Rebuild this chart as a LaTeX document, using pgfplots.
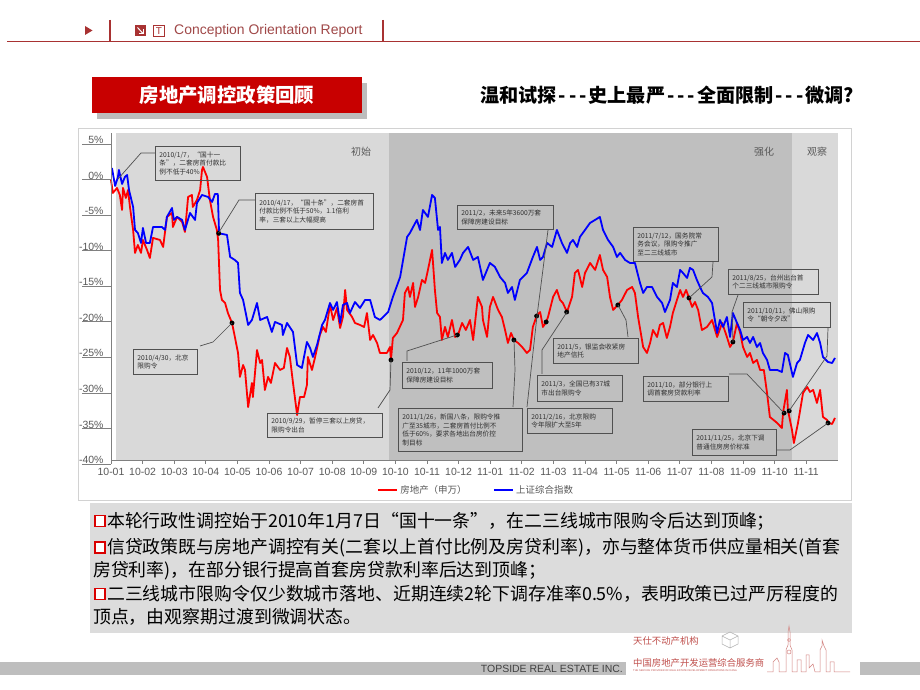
\documentclass[border=0pt]{standalone}
\usepackage{pgfplots}
\pgfplotsset{compat=1.18}
\usepackage{fontspec}
\setmainfont{Liberation Sans}
\newfontfamily\cjk{Noto Sans CJK SC}
\definecolor{hdred}{HTML}{A83232}
\definecolor{hdtext}{HTML}{A04848}
\definecolor{titlered}{HTML}{C80000}
\definecolor{shadowgray}{HTML}{BDBDBD}
\definecolor{bgA}{HTML}{D9D9D9}
\definecolor{bgB}{HTML}{BFBFBF}
\definecolor{boxgray}{HTML}{505050}
\definecolor{anngray}{HTML}{303030}
\definecolor{labgray}{HTML}{595959}
\definecolor{axgray}{HTML}{808080}
\definecolor{txtbg}{HTML}{DCDCDC}
\definecolor{footgray}{HTML}{BEBEBE}
\definecolor{logored}{HTML}{C0504D}
\newcommand\dashes{\kern2pt-\kern3pt-\kern3pt-\kern2pt}
\tikzset{ann/.style={draw=boxgray, line width=0.8bp, inner xsep=4bp, inner ysep=0pt, anchor=north west,
  font=\cjk\fontsize{6.7}{8.7}\selectfont, text=anngray, align=left},
  lead/.style={draw=boxgray, line width=0.7bp},
  px/.style={x=1bp, y=1bp, shift={(0,690)}, yscale=-1}}
\newcommand\ann[6]{\node[ann, text width=#5bp, minimum height=#4bp] at (#1,#2) {#6};}
\begin{document}
\begin{tikzpicture}
\begin{scope}[px]
\useasboundingbox (0,0) rectangle (920,690);
\fill[white] (0,0) rectangle (920,690);
% header
\draw[hdred, line width=1.8] (7,41.5) -- (920,41.5);
\draw[hdred, line width=1.2] (110,20) -- (110,41.5);
\draw[hdred, line width=1.2] (383,20) -- (383,41.5);
\fill[hdred] (85,26) -- (92.5,30.5) -- (85,35) -- cycle;
\fill[hdred] (135,25) rectangle (145.5,36);
\draw[white, line width=1] (137.5,27.5) -- (143,33.5);
\draw[white, line width=1] (143,29.5) -- (143,33.5) -- (139,33.5);
\draw[hdred, line width=0.8] (153.5,25) rectangle (164.5,36);
\node[text=hdred, inner sep=0, font=\fontsize{10}{10}\selectfont] at (159,30.7) {T};
\node[anchor=west, inner sep=0, text=hdtext, font=\fontsize{14}{16}\selectfont] at (174,30.5) {Conception Orientation Report};
% title
\fill[shadowgray] (97,83) rectangle (367,119);
\fill[titlered] (92,77) rectangle (362,113);
\node[white, inner sep=0, font=\cjk\bfseries\fontsize{19.5}{22}\selectfont] at (227,95.5) {房地产调控政策回顾};
\node[anchor=west, inner sep=0, font=\cjk\bfseries\fontsize{19.2}{22}\selectfont] at (480,95) {温和试探\dashes 史上最严\dashes 全面限制\dashes 微调?};
% panel
\draw[gray!35, fill=white, line width=0.6] (78,128) rectangle (851,500);
\end{scope}

\begin{axis}[
  at={(111bp,230bp)}, anchor=south west,
  scale only axis, width=726.8bp, height=327.1bp,
  xmin=0, xmax=23, ymin=-40, ymax=6,
  axis lines*=left, axis on top,
  axis line style={axgray, line width=0.8bp},
  clip=false,
  xtick={0,...,22},
  xticklabels={10-01,10-02,10-03,10-04,10-05,10-06,10-07,10-08,10-09,10-10,10-11,10-12,11-01,11-02,11-03,11-04,11-05,11-06,11-07,11-08,11-09,11-10,11-11},
  ytick={-40,-35,...,5},
  yticklabel={\pgfmathprintnumber{\tick}\%},
  /pgf/number format/assume math mode=true,
  tick align=outside,
  major tick length=4bp,
  x tick style={axgray, line width=0.7bp},
  y tick style={draw=none},
  ticklabel style={font=\fontsize{10.5}{12}\selectfont, text=labgray},
  xticklabel style={yshift=-1bp},
  legend style={at={(0.502,-0.092)}, anchor=center, draw=none, fill=none, legend columns=2,
    font=\cjk\fontsize{9.5}{11}\selectfont, text=labgray, inner sep=0pt,
    /tikz/every even column/.append style={column sep=24bp}},
  legend image code/.code={\draw[#1, line width=2.6bp] (0bp,0bp) -- (19bp,0bp);},
]
\fill[bgA] (axis cs:0.15,-40) rectangle (axis cs:8.8,6);
\fill[bgB] (axis cs:8.8,-40) rectangle (axis cs:21.55,6);
\fill[bgA] (axis cs:21.55,-40) rectangle (axis cs:23,6);
\pgfplotsinvokeforeach{5,0,-5,-10,-15,-20,-25,-30,-35,-40}{
  \draw[axgray, line width=0.7bp] ([xshift=-29bp,yshift=-4bp]axis cs:0,#1) -- ([yshift=-4bp]axis cs:0,#1);
}
\addplot[red, line width=1.8bp, line join=round] table {
x y
0.00 -0.62
0.06 -2.45
0.19 -1.74
0.28 -2.73
0.35 -4.84
0.38 -1.74
0.47 -3.15
0.54 -2.03
0.60 -4.42
0.70 -7.65
0.76 -10.88
0.85 -9.76
0.95 -10.88
1.01 -9.06
1.14 -10.46
1.23 -11.59
1.33 -8.77
1.55 -9.06
1.65 -10.04
1.77 -5.82
1.93 -5.26
1.96 -7.23
2.09 -5.82
2.25 -6.52
2.34 -7.93
2.44 -3.01
2.56 -2.73
2.59 -4.42
2.72 -3.43
2.82 -2.03
2.88 0.79
2.91 1.21
3.04 -0.20
3.13 -3.43
3.23 -5.82
3.35 -7.65
3.39 -9.06
3.45 -16.09
3.51 -17.49
3.61 -17.92
3.70 -19.33
3.83 -20.73
3.92 -22.70
4.02 -24.95
4.08 -28.32
4.18 -26.64
4.24 -27.34
4.34 -32.55
4.46 -29.17
4.49 -31.14
4.62 -24.53
4.72 -26.36
4.78 -25.93
4.87 -30.15
4.97 -28.32
5.06 -29.17
5.19 -26.36
5.35 -27.34
5.47 -27.06
5.57 -24.25
5.66 -25.51
5.76 -29.17
5.89 -33.67
5.98 -31.14
6.11 -31.14
6.20 -29.45
6.23 -25.51
6.36 -27.34
6.46 -25.51
6.61 -22.42
6.71 -21.29
6.80 -21.99
6.93 -18.20
7.03 -20.31
7.15 -18.62
7.25 -21.43
7.34 -19.89
7.41 -16.09
7.47 -18.90
7.63 -19.89
7.72 -20.73
7.88 -21.01
8.01 -21.29
8.10 -19.33
8.20 -23.12
8.29 -22.42
8.42 -23.54
8.51 -24.95
8.73 -24.95
8.83 -24.11
8.86 -25.93
8.92 -22.84
9.05 -22.14
9.24 -20.31
9.30 -16.51
9.40 -15.67
9.46 -17.07
9.56 -15.10
9.62 -18.48
9.72 -17.07
9.84 -14.68
9.94 -15.10
10.03 -13.27
10.16 -10.46
10.19 -12.29
10.25 -16.09
10.32 -19.33
10.41 -19.89
10.47 -23.12
10.57 -21.29
10.66 -22.70
10.79 -20.31
10.89 -22.70
10.98 -22.42
11.11 -20.73
11.23 -21.72
11.36 -20.31
11.46 -23.12
11.61 -17.07
11.74 -18.48
11.77 -20.31
11.90 -22.70
11.99 -18.48
12.09 -17.07
12.25 -18.90
12.37 -19.89
12.47 -21.72
12.56 -23.54
12.66 -22.14
12.75 -23.12
12.88 -23.54
13.01 -24.11
13.16 -24.95
13.26 -24.53
13.35 -21.29
13.48 -19.61
13.58 -19.19
13.67 -21.29
13.77 -20.59
13.83 -19.89
13.99 -17.07
14.11 -16.09
14.21 -17.49
14.30 -17.92
14.43 -19.19
14.59 -17.07
14.68 -13.70
14.78 -13.27
14.91 -15.67
15.00 -13.70
15.16 -12.29
15.32 -13.27
15.47 -11.17
15.57 -13.27
15.70 -14.26
15.79 -17.07
15.89 -18.90
16.04 -18.20
16.17 -17.49
16.33 -16.09
16.49 -15.67
16.58 -16.51
16.68 -19.89
16.84 -24.11
16.96 -24.95
17.06 -23.54
17.15 -21.72
17.28 -22.70
17.37 -21.01
17.47 -20.73
17.59 -22.84
17.69 -21.29
17.78 -19.33
17.91 -17.49
18.01 -16.09
18.10 -17.07
18.20 -16.09
18.29 -17.21
18.39 -18.48
18.48 -17.78
18.58 -18.90
18.70 -21.72
18.86 -21.29
19.02 -20.31
19.18 -22.70
19.34 -20.73
19.49 -22.70
19.59 -24.11
19.68 -23.40
19.81 -20.73
19.91 -22.14
20.00 -24.11
20.13 -25.51
20.22 -24.95
20.32 -26.36
20.44 -25.93
20.54 -27.34
20.66 -27.34
20.76 -30.57
20.85 -33.95
21.08 -34.79
21.23 -35.50
21.27 -33.25
21.39 -30.15
21.42 -32.97
21.55 -35.78
21.61 -37.61
21.74 -34.79
21.90 -30.57
22.03 -29.73
22.12 -30.43
22.22 -30.15
22.34 -31.98
22.44 -30.15
22.53 -33.95
22.66 -34.37
22.69 -34.79
22.82 -34.93
22.91 -34.09
};
\addlegendentry{房地产（申万）}
\addplot[blue, line width=1.8bp, line join=round] table {
x y
0.03 1.07
0.13 -1.46
0.22 -0.20
0.25 0.79
0.35 -1.18
0.44 -0.20
0.51 0.08
0.57 -2.03
0.70 -4.42
0.76 -7.65
0.85 -8.07
0.95 -9.48
1.01 -7.37
1.11 -9.48
1.23 -9.48
1.33 -7.23
1.61 -7.23
1.71 -7.65
1.77 -5.82
1.93 -4.56
1.99 -6.24
2.09 -5.82
2.25 -6.24
2.34 -7.65
2.50 -5.26
2.66 -6.24
2.72 -3.85
2.88 -2.73
3.07 -3.01
3.20 -3.71
3.29 -2.59
3.38 -2.59
3.42 -8.12
3.67 -8.35
3.77 -11.45
3.92 -11.87
4.02 -12.29
4.08 -16.51
4.18 -17.49
4.34 -21.01
4.46 -20.31
4.62 -17.92
4.72 -20.31
4.94 -19.89
5.09 -21.99
5.19 -20.59
5.41 -21.01
5.44 -22.42
5.57 -20.73
5.76 -21.99
5.89 -26.64
6.04 -27.06
6.20 -23.40
6.30 -24.25
6.39 -25.51
6.52 -23.82
6.68 -21.01
6.77 -20.31
6.93 -17.92
7.03 -18.90
7.15 -17.78
7.25 -20.73
7.34 -18.20
7.47 -17.92
7.56 -19.33
7.72 -17.78
7.88 -18.62
8.04 -17.49
8.20 -17.49
8.35 -19.89
8.51 -20.31
8.58 -20.03
8.77 -19.19
8.92 -17.07
9.15 -14.26
9.37 -8.63
9.46 -8.07
9.56 -7.23
9.68 -6.24
9.78 -7.65
9.87 -4.84
10.03 -5.82
10.16 -2.73
10.25 -3.15
10.35 -7.65
10.41 -7.23
10.47 -12.29
10.57 -10.88
10.66 -11.87
10.79 -10.88
10.89 -12.85
11.04 -11.87
11.14 -10.88
11.30 -10.04
11.46 -11.87
11.61 -11.45
11.77 -14.68
11.99 -12.29
12.15 -12.85
12.31 -14.26
12.47 -15.10
12.56 -16.51
12.69 -15.67
12.78 -17.49
12.94 -14.68
13.16 -13.70
13.35 -11.45
13.48 -10.04
13.58 -11.87
13.67 -11.45
13.80 -9.48
13.96 -10.04
14.11 -7.65
14.27 -9.48
14.43 -10.88
14.53 -9.48
14.62 -9.06
14.75 -10.04
14.84 -8.63
15.00 -7.65
15.16 -6.66
15.32 -6.24
15.47 -5.82
15.57 -7.65
15.73 -9.06
15.89 -10.04
16.01 -11.45
16.11 -10.88
16.27 -11.87
16.42 -12.29
16.58 -12.29
16.74 -15.10
16.84 -16.51
16.96 -15.67
17.12 -15.67
17.28 -17.07
17.44 -17.92
17.53 -19.19
17.69 -17.49
17.78 -15.10
17.91 -15.67
18.01 -13.27
18.10 -13.70
18.23 -14.40
18.32 -12.99
18.42 -13.27
18.54 -14.68
18.64 -15.67
18.73 -16.51
18.89 -17.07
19.02 -17.92
19.18 -22.14
19.27 -20.31
19.37 -21.29
19.49 -19.89
19.59 -22.70
19.68 -19.33
19.81 -20.73
19.91 -21.72
20.00 -23.12
20.13 -22.70
20.22 -23.54
20.32 -22.70
20.44 -24.11
20.54 -23.54
20.63 -24.95
20.76 -25.93
20.85 -27.34
21.08 -27.34
21.23 -27.62
21.33 -24.95
21.42 -25.23
21.58 -28.32
21.71 -26.36
21.80 -25.93
21.96 -23.54
22.06 -22.42
22.22 -23.12
22.34 -22.14
22.44 -23.54
22.53 -25.51
22.69 -26.22
22.82 -26.36
22.91 -25.65
};
\addlegendentry{上证综合指数}
\addplot[only marks, mark=*, mark size=2.2bp, black, forget plot] table {
x y
3.41 -8.12
3.83 -20.73
8.86 -25.93
10.96 -22.42
12.75 -23.12
13.47 -19.75
13.77 -20.59
14.42 -19.19
16.04 -18.20
18.29 -17.21
19.68 -23.40
21.30 -33.40
21.46 -33.10
22.69 -34.79
};
\end{axis}

\begin{scope}[px]
% phase labels
\node[text=labgray, inner sep=0, font=\cjk\fontsize{10}{12}\selectfont] at (361,152) {初始};
\node[text=labgray, inner sep=0, font=\cjk\fontsize{10}{12}\selectfont] at (764,152) {强化};
\node[text=labgray, inner sep=0, font=\cjk\fontsize{10}{12}\selectfont] at (817,152) {观察};
% annotation boxes
\ann{155}{146}{85}{34}{77}{2010/1/7，“国十一\\条”，二套房首付款比\\例不低于40\%}
\ann{255}{193}{118}{36}{110}{2010/4/17，“国十条”，二套房首\\付款比例不低于50\%，1.1倍利\\率，三套以上大幅提高}
\ann{133}{349}{64}{25}{56}{2010/4/30，北京\\限购令}
\ann{267}{413}{115}{24}{107}{2010/9/29，暂停三套以上房贷，\\限购令出台}
\ann{402}{362}{90}{26}{82}{2010/12，11年1000万套\\保障房建设目标}
\ann{398}{408}{124}{43}{116}{2011/1/26，新国八条，限购令推\\广至35城市，二套房首付比例不\\低于60\%，要求各地出台房价控\\制目标}
\ann{527}{408}{85}{25}{77}{2011/2/16，北京限购\\令年限扩大至5年}
\ann{457}{205}{96}{24}{88}{2011/2，未来5年3600万套\\保障房建设目标}
\ann{537}{375}{85}{26}{77}{2011/3，全国已有37城\\市出台限购令}
\ann{553}{338}{85}{25}{77}{2011/5，银监会收紧房\\地产信托}
\ann{633}{227}{85}{34}{77}{2011/7/12，国务院常\\务会议，限购令推广\\至二三线城市}
\ann{728}{269}{90}{25}{82}{2011/8/25，台州出台首\\个二三线城市限购令}
\ann{743}{302}{87}{25}{79}{2011/10/11，佛山限购\\令“朝令夕改”}
\ann{643}{376}{85}{25}{77}{2011/10，部分银行上\\调首套房贷款利率}
\ann{692}{429}{84}{26}{76}{2011/11/25，北京下调\\普通住房房价标准}
% leader lines
\draw[lead] (155,153) -- (141,153) -- (118,179);
\draw[lead] (255,200) -- (239,200) -- (218.5,233);
\draw[lead] (200,346) -- (213,342) -- (232,323);
\draw[lead] (378,408) -- (390,390) -- (391,360);
\draw[lead] (407,361) -- (407,351) -- (457,335);
\draw[lead] (513,407) -- (515,370) -- (514,340);
\draw[lead] (527,407) -- (537,316);
\draw[lead] (548,230) -- (537,316);
\draw[lead] (542,374) -- (542,350) -- (567,312);
\draw[lead] (628,337) -- (626,320) -- (618,305);
\draw[lead] (713,262) -- (712,277) -- (689,298);
\draw[lead] (738,295) -- (732,312) -- (733,342);
\draw[lead] (828,328) -- (827,356) -- (789,411);
\draw[lead] (729,374) -- (747,374) -- (784,413);
\draw[lead] (777,450) -- (790,450) -- (828,423);
% text block
\fill[txtbg] (90,503) rectangle (852,633);
\foreach \yy in {521,547.5,594} {\draw[red!85!black, fill=white, line width=1.5] (95,\yy-5.5) rectangle (105,\yy+5.5);}
\begin{scope}[every node/.style={anchor=west, inner sep=0, font=\cjk\fontsize{17.95}{20}\selectfont}]
\node at (107,521) {本轮行政性调控始于2010年1月7日“国十一条”，在二三线城市限购令后达到顶峰；};
\node at (107,547.5) {信贷政策既与房地产调控有关(二套以上首付比例及房贷利率)，亦与整体货币供应量相关(首套};
\node at (93,570.5) {房贷利率)，在部分银行提高首套房贷款利率后达到顶峰；};
\node at (107,594) {二三线城市限购令仅少数城市落地、近期连续2轮下调存准率0.5\%，表明政策已过严厉程度的};
\node at (93,617) {顶点，由观察期过渡到微调状态。};
\end{scope}
% footer
\fill[footgray] (0,662) rectangle (626,675);
\fill[footgray] (860,662) rectangle (920,675);
\node[anchor=east, inner sep=0, text=black!75, font=\fontsize{10.5}{12}\selectfont] at (623,668.5) {TOPSIDE REAL ESTATE INC.};
\node[anchor=west, inner sep=0, text=logored, font=\cjk\fontsize{9.4}{10}\selectfont] at (633,641) {天仕不动产机构};
\node[anchor=west, inner sep=0, text=logored, font=\cjk\fontsize{9.4}{10}\selectfont] at (633,662.5) {中国房地产开发运营综合服务商};
\node[anchor=west, inner sep=0, text=logored, font=\fontsize{2.6}{3}\selectfont] at (633,670.5) {THE SERVICE PROVIDER OF REAL ESTATE DEVELOPMENT OPERATIONS IN CHINA};
\draw[gray!60, line width=0.5] (722,636) -- (730,632) -- (738,636) -- (738,644) -- (730,648) -- (722,644) -- cycle (722,636) -- (730,640) -- (738,636) (730,640) -- (730,648);
\draw[logored!70, line width=0.5] (767,672) -- (773,672) -- (773,662) -- (777,658) -- (779,662) -- (779,672) -- (786,672) -- (786,650) -- (788,645) -- (788,632) -- (789,626) -- (790,632) -- (790,645) -- (792,650) -- (792,672) -- (797,672) -- (797,660) -- (801,660) -- (801,672) -- (806,672) -- (806,655) -- (809,655) -- (809,668) -- (813,664) -- (815,672) -- (820,672) -- (820,650) -- (822,646) -- (822,640) -- (824,646) -- (826,650) -- (826,672) -- (830,672) -- (830,662) -- (834,662) -- (834,672) -- (850,672);
\draw[logored!70, line width=0.5] (789,640) circle (1.6) (789,652) circle (2);
\end{scope}
\end{tikzpicture}
\end{document}
